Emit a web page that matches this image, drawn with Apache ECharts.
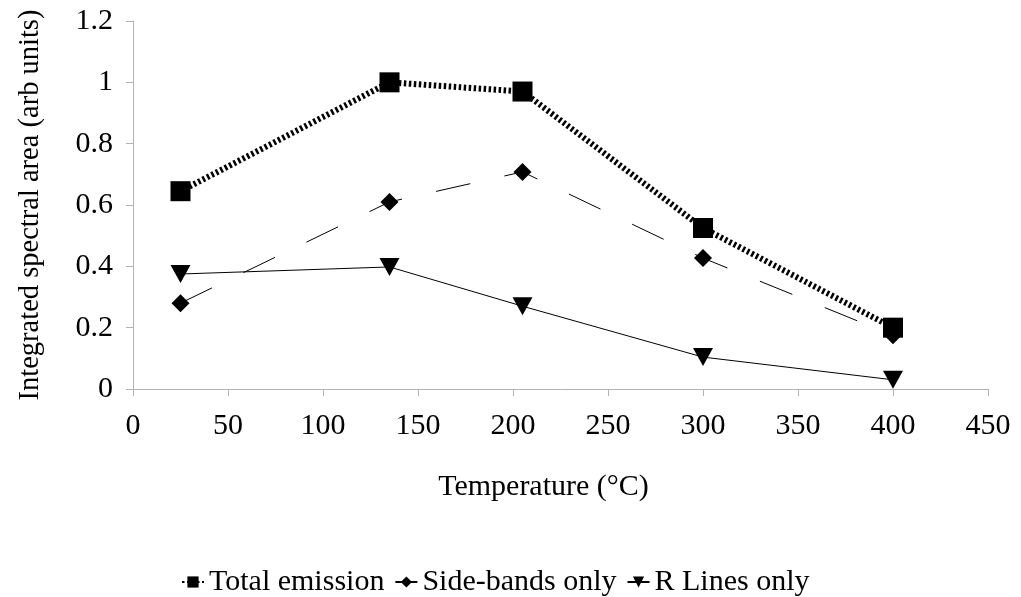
<!DOCTYPE html>
<html>
<head>
<meta charset="utf-8">
<script src="https://cdn.jsdelivr.net/npm/echarts@6/dist/echarts.min.js"></script>
<style>
  html, body { margin: 0; padding: 0; background: #fff; }
  #chart { width: 1021px; height: 597px; }
</style>
</head>
<body>
<div id="chart"></div>
<script>
// temperatures (°C)
var temps = [25, 135, 205, 300, 400]
// integrated spectral area
var totalEmission = [0.645, 1.0, 0.97, 0.525, 0.2]
var sideBands = [0.28, 0.61, 0.708, 0.427, 0.175]
var rLines = [0.375, 0.398, 0.27, 0.104, 0.03]

function pairs(ys) {
  return temps.map(function (t, i) { return [t, ys[i]] })
}

var font = 'Liberation Serif'
var chart = echarts.init(document.getElementById('chart'))

var option = {
  backgroundColor: '#fff',
  animation: false,
  grid: { left: 133, right: 33, top: 21, bottom: 208, containLabel: false },
  xAxis: {
    type: 'value',
    min: 0, max: 450, interval: 50,
    name: 'Temperature (°C)',
    nameLocation: 'middle',
    nameGap: 83,
    nameTextStyle: { fontFamily: font, fontSize: 30, color: '#000', padding: [0, 34, 0, 0] },
    axisLine: { show: true, lineStyle: { color: '#b3b3b3', width: 1 } },
    axisTick: { show: true, length: 7, lineStyle: { color: '#b3b3b3' } },
    axisLabel: { fontFamily: font, fontSize: 30, color: '#000', margin: 22 },
    splitLine: { show: false }
  },
  yAxis: {
    type: 'value',
    min: 0, max: 1.2, interval: 0.2,
    name: 'Integrated spectral area (arb units)',
    nameLocation: 'middle',
    nameGap: 88,
    nameTextStyle: { fontFamily: font, fontSize: 28.5, color: '#000' },
    axisLine: { show: true, lineStyle: { color: '#b3b3b3', width: 1 } },
    axisTick: { show: true, length: 7, lineStyle: { color: '#b3b3b3' } },
    axisLabel: { fontFamily: font, fontSize: 30, color: '#000', margin: 20 },
    splitLine: { show: false }
  },
  legend: {
    top: 562,
    left: 176,
    itemWidth: 22,
    itemHeight: 14,
    itemGap: 10,
    textStyle: { fontFamily: font, fontSize: 30, color: '#000' },
    data: ['Total emission', 'Side-bands only', 'R Lines only']
  },
  series: [
    {
      name: 'Side-bands only',
      type: 'line',
      data: pairs(sideBands),
      symbol: 'diamond',
      symbolSize: [18, 18],
      itemStyle: { color: '#000' },
      lineStyle: { color: '#000', width: 1, type: [35, 35] },
      z: 2
    },
    {
      name: 'R Lines only',
      type: 'line',
      data: pairs(rLines),
      symbol: 'triangle',
      symbolRotate: 180,
      symbolSize: [20, 18],
      itemStyle: { color: '#000' },
      lineStyle: { color: '#000', width: 1 },
      z: 3
    },
    {
      name: 'Total emission',
      type: 'line',
      data: pairs(totalEmission),
      symbol: 'rect',
      symbolSize: 20,
      itemStyle: { color: '#000' },
      lineStyle: { color: '#000', width: 6, type: [2.5, 2.5] },
      z: 4
    }
  ]
}

chart.setOption(option)
</script>
</body>
</html>
